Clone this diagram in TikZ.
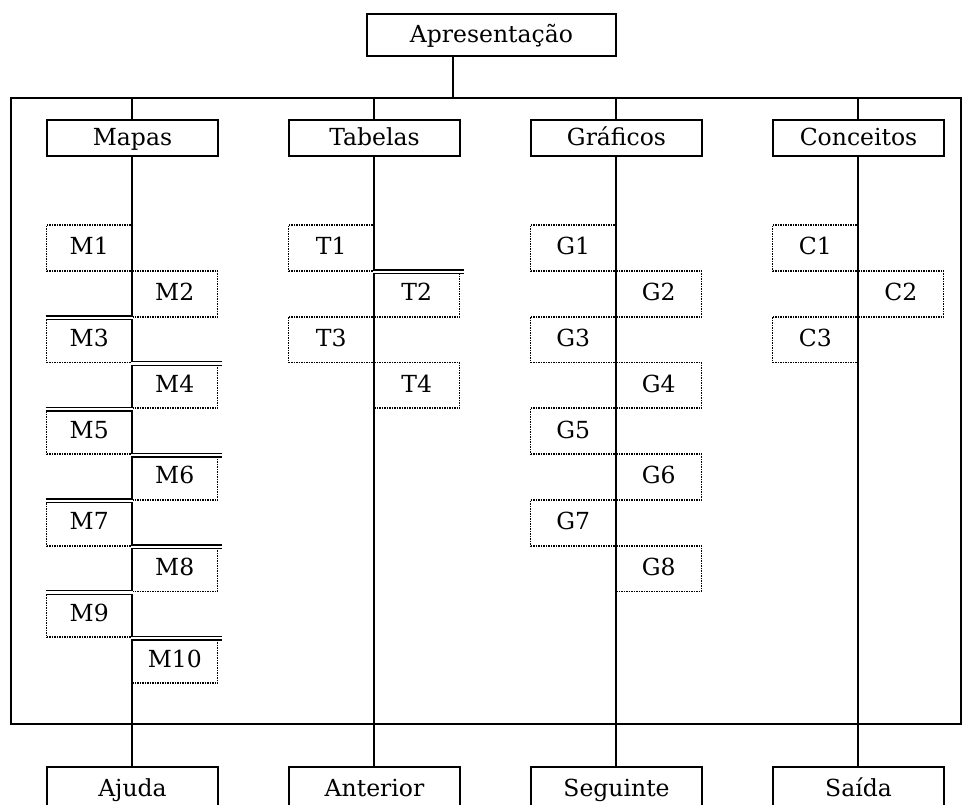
\documentclass[tikz,border=0pt]{standalone}
\usepackage{fontspec}
\setmainfont{DejaVu Serif}
\begin{document}
\begin{tikzpicture}[x=1pt,y=-1pt,line width=1.6pt,
    menu/.style={draw,fill=white,minimum width=171pt,minimum height=36pt,
      inner sep=0pt,text height=17pt,text depth=2pt,font=\fontsize{23.5}{28}\selectfont},
    item/.style={draw,line width=1.8pt,dash pattern=on 1.5pt off 1pt,minimum width=85.5pt,
      minimum height=45.8pt,inner sep=0pt,text height=17pt,text depth=3pt,
      font=\fontsize{23.5}{28}\selectfont},
    dbl/.style={double,double distance=2.2pt,line width=1.4pt}]
   \useasboundingbox (0,0) rectangle (966,804);
   % title and frame
   \node[menu,minimum width=249pt,minimum height=42pt] (apres) at (491.5,35) {Apresentação};
   \coordinate (hub) at (453,98);
   \draw (apres.south -| hub) -- (hub);
   \draw (11,98) rectangle (961,724);
   % columns
   \foreach \name/\x/\lbl/\bname/\blbl in {mapas/132/Mapas/ajuda/Ajuda,
       tabelas/374/Tabelas/anterior/Anterior,
       graficos/616/Gráficos/seguinte/Seguinte,
       conceitos/858/Conceitos/saida/Saída} {
     \node[menu,minimum height=44pt] (\bname) at (\x+0.5,789) {\blbl};
     \coordinate (\name-top) at (\x,98);
     \draw (\name-top) -- (\bname.north -| \name-top);
     \node[menu] (\name) at (\x+0.5,138) {\lbl};
   }
   % items
   \foreach \x/\p/\n in {132/M/10, 374/T/4, 616/G/8, 858/C/3} {
     \foreach \r in {1,...,\n} {
       \pgfmathsetmacro\side{isodd(\r) ? -1 : 1}
       \node[item] (\p\r) at ({\x+\side*42.75},{225+(\r-0.5)*45.8}) {\p\r};
     }
   }
   % double rules
   \foreach \b/\ext in {M3/0,M4/4,M5/0,M6/4,M7/0,M8/4,M9/0,M10/4,T2/4}
     \draw[dbl] ([yshift=-2pt]\b.north west) -- ([xshift=\ext pt,yshift=-2pt]\b.north east);
\end{tikzpicture}
\end{document}
